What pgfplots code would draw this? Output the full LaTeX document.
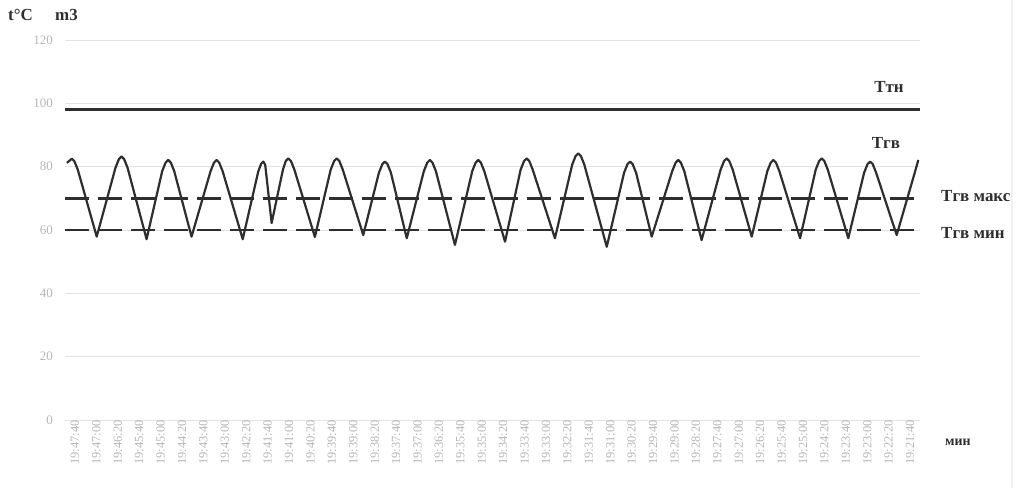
\documentclass[border=0pt]{standalone}
\usepackage{fontspec}
\setmainfont{Liberation Serif}
\usepackage{pgfplots}
\pgfplotsset{compat=1.18}
\definecolor{ink}{HTML}{2E2E2E}
\definecolor{faint}{HTML}{B5B5B5}
\begin{document}
\begin{tikzpicture}[x=1bp,y=1bp]
\useasboundingbox (0,0) rectangle (1028,488);
\draw[gray!12, line width=2bp] (1012,0) -- (1012,488);
\begin{axis}[
  at={(65bp,68bp)}, anchor=south west,
  scale only axis, width=855bp, height=380bp,
  xmin=-0.23, xmax=39.70, ymin=0, ymax=120,
  axis line style={draw=none},
  major tick length=0pt,
  ytick={0,20,...,120},
  xtick={0,...,39},
  xticklabels={19:47:40,19:47:00,19:46:20,19:45:40,19:45:00,19:44:20,19:43:40,19:43:00,19:42:20,19:41:40,19:41:00,19:40:20,19:39:40,19:39:00,19:38:20,19:37:40,19:37:00,19:36:20,19:35:40,19:35:00,19:34:20,19:33:40,19:33:00,19:32:20,19:31:40,19:31:00,19:30:20,19:29:40,19:29:00,19:28:20,19:27:40,19:27:00,19:26:20,19:25:40,19:25:00,19:24:20,19:23:40,19:23:00,19:22:20,19:21:40},
  ymajorgrids, major grid style={gray!22, line width=0.8bp},
  /pgf/number format/assume math mode=true,
  yticklabel style={font=\fontsize{13}{13}\selectfont, text=faint, anchor=east, inner sep=0pt, xshift=-12bp},
  xticklabel style={font=\fontsize{12.5}{13}\selectfont, text=faint, rotate=90, anchor=east, inner sep=0pt, yshift=-5bp},
  clip=false,
]
\addplot[ink, line width=3bp] coordinates {(-0.23,98) (39.70,98)};
\addplot[ink, line width=2.4bp, dash pattern=on 24bp off 9bp] coordinates {(-0.23,70) (39.70,70)};
\addplot[ink, line width=2.4bp, dash pattern=on 24bp off 9bp] coordinates {(-0.23,60) (39.70,60)};
\addplot[ink, line width=2.2bp, line join=round] coordinates {
(-0.14,81.2) (0.09,82.5) (0.21,81.7) (0.37,79.0)
(1.25,57.9)
(2.13,79.7) (2.29,82.4) (2.41,83.2) (2.53,82.4) (2.69,79.7)
(3.58,57.1)
(4.31,78.6) (4.47,81.3) (4.59,82.1) (4.71,81.3) (4.87,78.6)
(5.68,57.9)
(6.57,78.6) (6.73,81.3) (6.85,82.1) (6.97,81.3) (7.13,78.6)
(8.07,57.1)
(8.80,78.6) (8.93,80.9) (9.03,81.6) (9.12,80.6)
(9.42,62.2)
(9.95,79.1) (10.08,81.8) (10.20,82.6) (10.32,81.8) (10.48,79.1)
(11.44,57.8)
(12.18,79.1) (12.34,81.8) (12.46,82.6) (12.58,81.8) (12.74,79.1)
(13.70,58.4)
(14.43,78.1) (14.59,80.8) (14.71,81.6) (14.83,80.8) (14.99,78.1)
(15.73,57.4)
(16.53,78.6) (16.69,81.3) (16.81,82.1) (16.93,81.3) (17.09,78.6)
(17.98,55.3)
(18.79,78.6) (18.95,81.3) (19.07,82.1) (19.19,81.3) (19.35,78.6)
(20.32,56.3)
(21.05,79.1) (21.21,81.8) (21.33,82.6) (21.45,81.8) (21.61,79.1)
(22.65,57.4)
(23.46,80.7) (23.62,83.4) (23.74,84.2) (23.86,83.4) (24.02,80.7)
(25.07,54.7)
(25.88,78.1) (26.04,80.8) (26.16,81.6) (26.28,80.8) (26.44,78.1)
(27.17,57.9)
(28.13,78.6) (28.29,81.3) (28.41,82.1) (28.53,81.3) (28.69,78.6)
(29.50,56.8)
(30.39,79.1) (30.55,81.8) (30.67,82.6) (30.79,81.8) (30.95,79.1)
(31.84,57.9)
(32.57,78.6) (32.73,81.3) (32.85,82.1) (32.97,81.3) (33.13,78.6)
(34.10,57.4)
(34.83,79.1) (34.99,81.8) (35.11,82.6) (35.23,81.8) (35.39,79.1)
(36.35,57.4)
(37.09,78.1) (37.25,80.8) (37.37,81.6) (37.49,80.8) (37.65,78.1)
(38.61,58.4)
(39.45,78.0) (39.62,82.1)};
\end{axis}
\begin{scope}[every node/.style={text=ink, font=\bfseries\fontsize{17}{17}\selectfont, inner sep=0pt}]
\node at (889,401) {Ттн};
\node at (886,345) {Тгв};
\node[anchor=west] at (941,292) {Тгв макс};
\node[anchor=west] at (941,255) {Тгв мин};
\node[anchor=west, font=\bfseries\fontsize{14}{14}\selectfont] at (945,46) {мин};
\node[anchor=west] at (8,473) {t°C};
\node[anchor=west] at (55,473) {m3};
\end{scope}
\end{tikzpicture}
\end{document}
